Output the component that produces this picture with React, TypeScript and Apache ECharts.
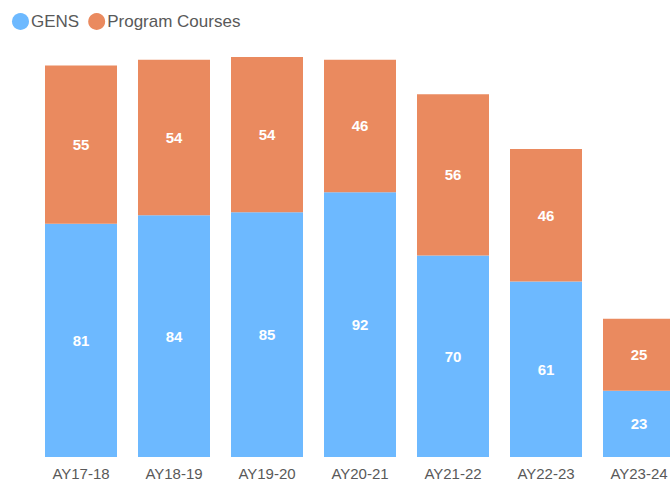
import React, { useEffect, useRef } from "react";
import * as echarts from "echarts";

const categories = ["AY17-18", "AY18-19", "AY19-20", "AY20-21", "AY21-22", "AY22-23", "AY23-24"];
const gens = [81, 84, 85, 92, 70, 61, 23];
const programCourses = [55, 54, 54, 46, 56, 46, 25];

const FONT = "Arial, 'Liberation Sans', sans-serif";

export default function App() {
  const ref = useRef<HTMLDivElement>(null);
  useEffect(() => {
    document.body.style.margin = "0";
    document.body.style.overflow = "hidden";
    const chart = echarts.init(ref.current!, undefined, { renderer: "svg" });
    const labelStyle = {
      show: true,
      position: "inside" as const,
      color: "#ffffff",
      fontSize: 15,
      fontWeight: "bold" as any,
      fontFamily: FONT,
    };
    chart.setOption({
      animation: false,
      legend: {
        left: 7,
        top: 8,
        icon: "circle",
        itemWidth: 17,
        itemHeight: 17,
        itemGap: 9,
        textStyle: { color: "#595959", fontSize: 17, fontFamily: FONT, padding: [0, 0, 0, -3] },
        data: ["GENS", "Program Courses"],
      },
      grid: { left: 34.5, width: 651, top: 54, bottom: 27 },
      xAxis: {
        type: "category",
        data: categories,
        axisLine: { show: false },
        axisTick: { show: false },
        axisLabel: { color: "#595959", fontSize: 15, margin: 9, fontFamily: FONT },
      },
      yAxis: { type: "value", min: 0, max: 140, show: false, splitLine: { show: false } },
      series: [
        {
          name: "GENS",
          type: "bar",
          stack: "total",
          data: gens,
          barWidth: 72,
          itemStyle: { color: "#6DB9FF" },
          label: labelStyle,
        },
        {
          name: "Program Courses",
          type: "bar",
          stack: "total",
          data: programCourses,
          barWidth: 72,
          itemStyle: { color: "#EA8A5F" },
          label: labelStyle,
        },
      ],
    });
    return () => chart.dispose();
  }, []);
  return (
    <div style={{ position: "fixed", left: 0, top: 0, width: 670, height: 484, overflow: "hidden", background: "#fff" }}>
      <div ref={ref} style={{ width: 700, height: 484 }} />
    </div>
  );
}
